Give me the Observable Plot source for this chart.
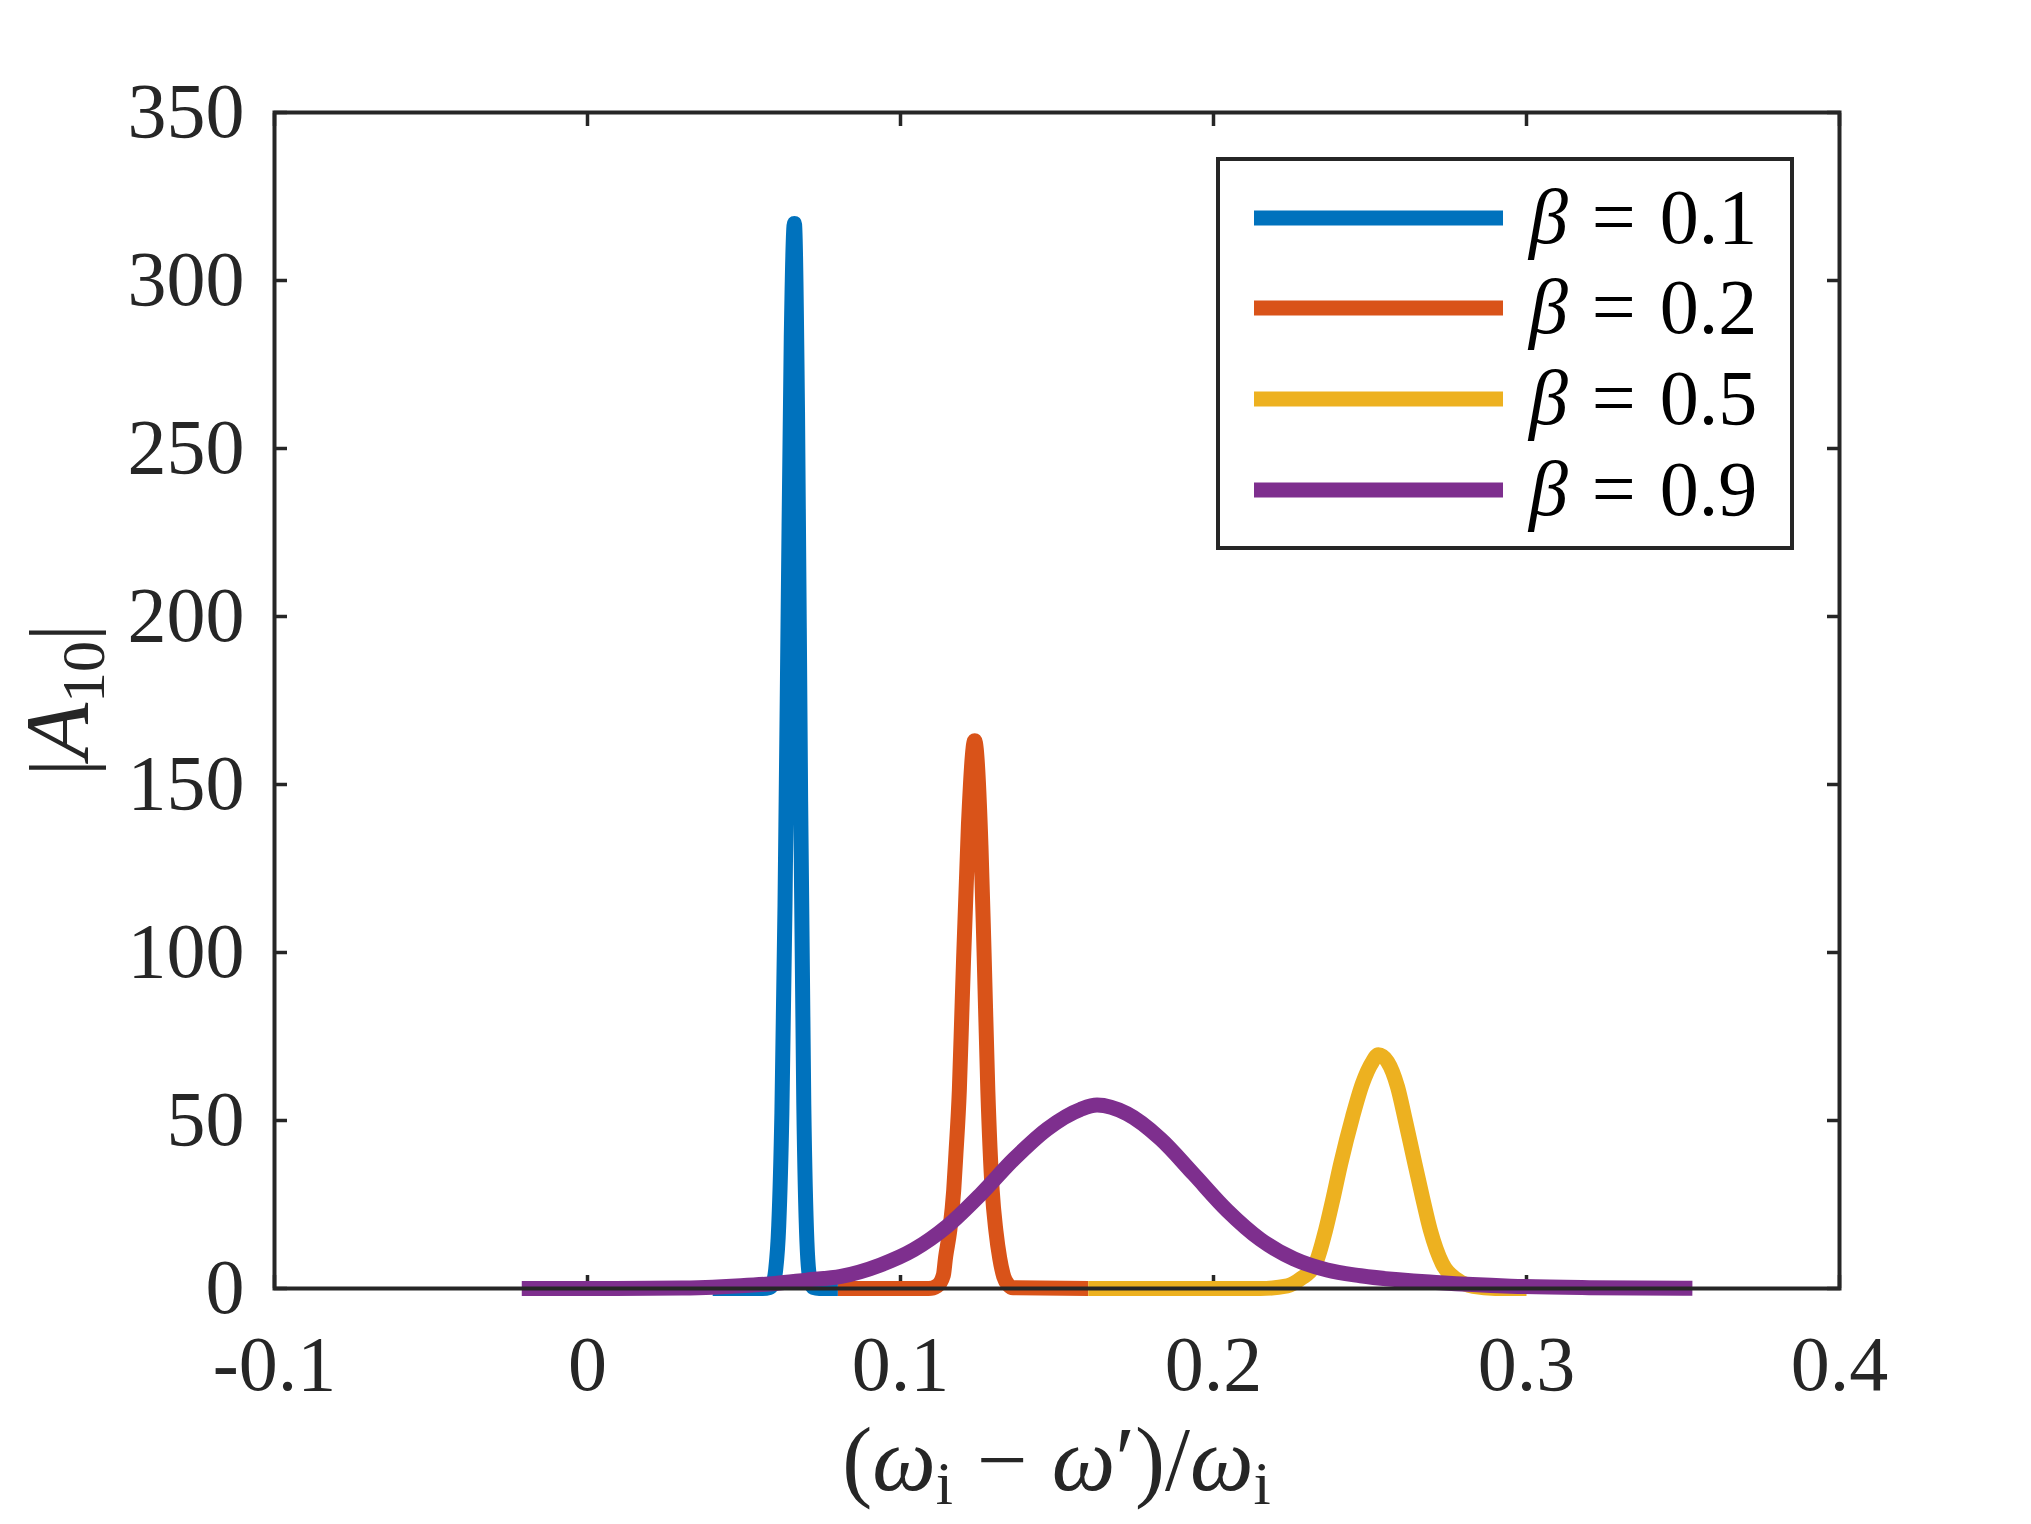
<!DOCTYPE html>
<html>
<head>
<meta charset="utf-8">
<script src="https://cdn.jsdelivr.net/npm/d3@7"></script>
<script src="https://cdn.jsdelivr.net/npm/@observablehq/plot@0.6"></script>
<style>
  html, body { margin: 0; padding: 0; background: #ffffff; }
  #chart { width: 2031px; height: 1524px; }
</style>
</head>
<body>
<div id="chart"></div>
<script>
// ---------- data ----------
const betaLabels = ["0.1", "0.2", "0.5", "0.9"];
const seriesColors = ["#0072BD", "#D95319", "#EDB120", "#7E2F8E"];

const xTicks = [-0.1, 0, 0.1, 0.2, 0.3, 0.4];
const xTickLabels = ["-0.1", "0", "0.1", "0.2", "0.3", "0.4"];
const yTicks = [0, 50, 100, 150, 200, 250, 300, 350];
const yTickLabels = ["0", "50", "100", "150", "200", "250", "300", "350"];

// beta = 0.1
const blueX = [0.040, 0.056, 0.0581, 0.0591, 0.0601, 0.0611, 0.0621, 0.0631, 0.0641, 0.0651, 0.0661,
               0.0671, 0.0681, 0.0691, 0.0701, 0.0711, 0.0721, 0.074, 0.080];
const blueY = [0, 0, 0.3, 1.2, 5.4, 18.7, 52, 114, 201, 283, 317,
               261, 145, 55, 14, 2.4, 0.3, 0, 0];
// beta = 0.2
const orangeX = [0.080, 0.109, 0.1117, 0.1137, 0.1144, 0.1157, 0.1170, 0.1177, 0.1188, 0.1197, 0.1217, 0.1237,
                 0.1257, 0.1267, 0.1279, 0.1293, 0.1305, 0.1317, 0.1330, 0.1345, 0.136, 0.160];
const orangeY = [0, 0, 0.8, 4, 9.3, 17, 29.2, 40, 59, 85, 138, 163,
                 132, 100, 59, 29.2, 17, 9, 3.5, 1, 0.2, 0];
// beta = 0.5
const yellowX = [0.160, 0.215, 0.2236, 0.228, 0.2326, 0.2358, 0.2380, 0.2406, 0.2444, 0.2476, 0.2508, 0.2527,
                 0.2556, 0.2588, 0.2613, 0.2639, 0.2668, 0.2693, 0.2731, 0.278, 0.283, 0.290, 0.300];
const yellowY = [0, 0, 0.8, 3, 7.4, 17.3, 26, 37, 51, 61, 67.5, 69.6,
                 67.5, 60, 50, 39, 27, 17.3, 7.4, 2.5, 0.6, 0, 0];
// beta = 0.9
const purpleX = [-0.021, 0.0, 0.02, 0.03, 0.04, 0.049, 0.06, 0.07, 0.081, 0.0936, 0.1042, 0.1149, 0.1256,
                 0.1362, 0.1469, 0.1575, 0.1628, 0.1724, 0.1831, 0.1937, 0.2044, 0.2150, 0.2257, 0.2363,
                 0.2470, 0.2725, 0.2950, 0.320, 0.353];
const purpleY = [0, 0, 0.05, 0.15, 0.4, 0.8, 1.5, 2.5, 3.6, 7.0, 11.5, 18.5, 28,
                 38.5, 47.5, 53.3, 54.6, 52, 44.5, 34, 23.2, 14.6, 8.8, 5.5,
                 3.8, 1.7, 0.7, 0.25, 0.05];

const seriesX = [blueX, orangeX, yellowX, purpleX];
const seriesY = [blueY, orangeY, yellowY, purpleY];
const series = seriesX.map((xs, k) => xs.map((x, i) => ({x, y: seriesY[k][i]})));

// ---------- chart ----------
const W = 2031, H = 1524;
const mL = 274, mR = 192, mT = 112, mB = 236;
const ink = "#262626";
const lw = 15;

const lineMarks = series.map((rows, k) =>
  Plot.line(rows, {x: "x", y: "y", stroke: seriesColors[k], strokeWidth: lw, curve: "monotone-x",
                   strokeLinejoin: "round", strokeLinecap: "butt"}));

const chart = Plot.plot({
  width: W, height: H,
  marginLeft: mL, marginRight: mR, marginTop: mT, marginBottom: mB,
  x: {domain: [-0.1, 0.4]},
  y: {domain: [0, 350]},
  style: {fontFamily: "'Liberation Serif', 'DejaVu Serif', serif", fontSize: "78px", background: "#ffffff", color: ink, overflow: "visible"},
  marks: [
    // inward ticks on all four sides
    Plot.axisX({ticks: xTicks, anchor: "bottom", tickSize: 13, dy: -13, tickFormat: () => "", label: null, stroke: ink, strokeWidth: 3.5}),
    Plot.axisX({ticks: xTicks, anchor: "top", tickSize: 13, dy: 13, tickFormat: () => "", label: null, stroke: ink, strokeWidth: 3.5}),
    Plot.axisY({ticks: yTicks, anchor: "left", tickSize: 13, dx: 13, tickFormat: () => "", label: null, stroke: ink, strokeWidth: 3.5}),
    Plot.axisY({ticks: yTicks, anchor: "right", tickSize: 13, dx: -13, tickFormat: () => "", label: null, stroke: ink, strokeWidth: 3.5}),
    ...lineMarks,
    // tick labels
    Plot.axisX({ticks: xTicks, anchor: "bottom", tickSize: 0, tickPadding: 46, label: null,
                tickFormat: d => xTickLabels[xTicks.indexOf(d)], fontSize: 78, fill: ink}),
    Plot.axisY({ticks: yTicks, anchor: "left", tickSize: 0, tickPadding: 30, label: null,
                tickFormat: d => yTickLabels[yTicks.indexOf(d)], fontSize: 78, fill: ink}),
    Plot.frame({stroke: ink, strokeWidth: 4})
  ]
});

document.getElementById("chart").appendChild(chart);

// ---------- axis titles and legend ----------
const svg = d3.select(chart);
const fontFam = "'Liberation Serif', 'DejaVu Serif', serif";

// y label |A_10|
const yl = svg.append("text")
  .attr("transform", `translate(88,${(mT + (H - mB)) / 2}) rotate(-90)`)
  .attr("text-anchor", "middle")
  .attr("font-family", fontFam)
  .attr("font-size", 84)
  .attr("fill", ink);
yl.append("tspan").text("|");
yl.append("tspan").attr("font-style", "italic").attr("font-size", 92).text("A");
yl.append("tspan").attr("font-size", 62).attr("dy", 16).text("10");
yl.append("tspan").attr("dy", -16).text("|");

// x label (ω_i − ω′)/ω_i
const xl = svg.append("text")
  .attr("x", (mL + (W - mR)) / 2)
  .attr("y", 1490)
  .attr("text-anchor", "middle")
  .attr("font-family", fontFam)
  .attr("font-size", 90)
  .attr("fill", ink);
xl.append("tspan").text("(");
xl.append("tspan").attr("font-style", "italic").text("ω");
xl.append("tspan").attr("font-size", 62).attr("dy", 14).text("i");
xl.append("tspan").attr("dy", -14).attr("dx", 24).text("−");
xl.append("tspan").attr("dx", 24).attr("font-style", "italic").text("ω");
xl.append("tspan").text("′)/");
xl.append("tspan").attr("font-style", "italic").text("ω");
xl.append("tspan").attr("font-size", 62).attr("dy", 14).text("i");

// legend
const lg = svg.append("g");
lg.append("rect")
  .attr("x", 1218).attr("y", 159).attr("width", 574).attr("height", 389)
  .attr("fill", "#ffffff").attr("stroke", ink).attr("stroke-width", 4);
const rowY = [218, 308, 399, 490];
betaLabels.forEach((b, i) => {
  lg.append("line")
    .attr("x1", 1254).attr("x2", 1503).attr("y1", rowY[i]).attr("y2", rowY[i])
    .attr("stroke", seriesColors[i]).attr("stroke-width", lw);
  const t = lg.append("text")
    .attr("x", 1529).attr("y", rowY[i] + 25)
    .attr("text-anchor", "start")
    .attr("font-family", fontFam).attr("font-size", 78).attr("fill", "#000000");
  t.append("tspan").attr("font-style", "italic").text("β");
  t.append("tspan").attr("dx", 24).text("=");
  t.append("tspan").attr("dx", 24).text(b);
});
</script>
</body>
</html>
